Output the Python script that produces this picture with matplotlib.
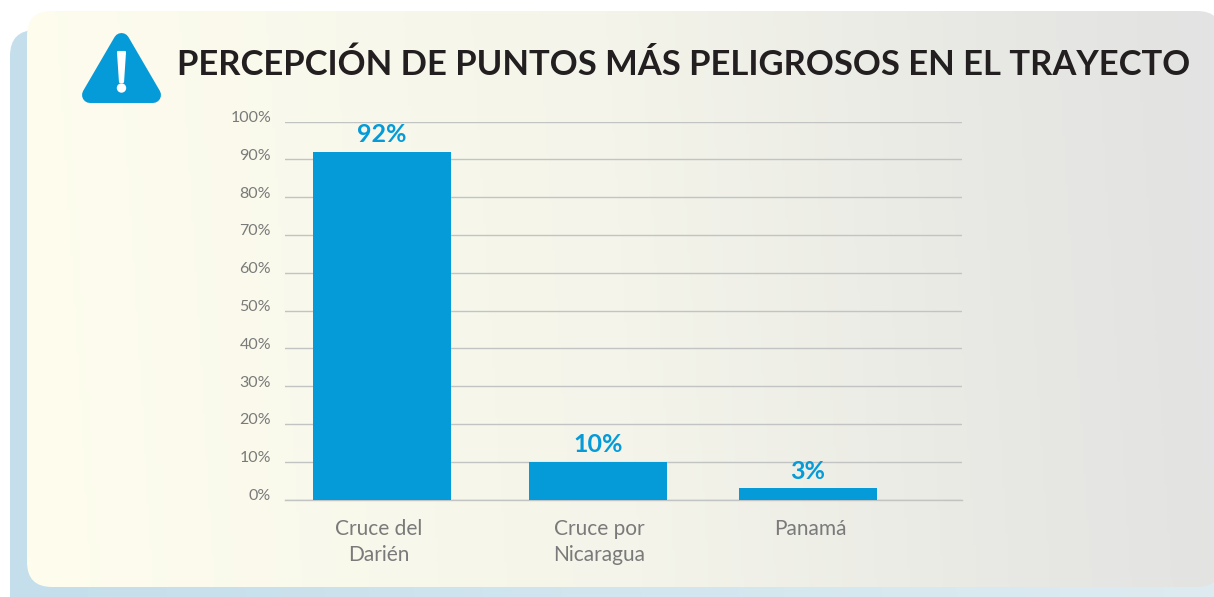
# Percepción de puntos más peligrosos en el trayecto
import numpy as np
import matplotlib
matplotlib.use('Agg')
import matplotlib.pyplot as plt
from matplotlib.colors import LinearSegmentedColormap
from matplotlib.patches import Circle, FancyBboxPatch, Polygon
from matplotlib.transforms import ScaledTranslation

categories = ['Cruce del\nDarién', 'Cruce por\nNicaragua', 'Panamá']
values = [92, 10, 3]
value_labels = ['92%', '10%', '3%']
y_ticks = [0, 10, 20, 30, 40, 50, 60, 70, 80, 90, 100]
y_tick_labels = ['0%', '10%', '20%', '30%', '40%', '50%', '60%', '70%', '80%', '90%', '100%']
bar_slots = [0, 1, 1.972]

TITLE = 'PERCEPCIÓN DE PUNTOS MÁS PELIGROSOS EN EL TRAYECTO'
BLUE = '#059BD8'
GRID = '#C2C3C3'
TEXT = '#7A7A7A'
W, H = 1214, 597

plt.rcParams['font.family'] = ['Lato', 'DejaVu Sans']

fig = plt.figure(figsize=(W / 100, H / 100), dpi=100, facecolor='white')

# ----- fondo: todo en coordenadas de pixel -----
bg = fig.add_axes([0, 0, 1, 1])
bg.set_xlim(0, W)
bg.set_ylim(H, 0)
bg.axis('off')


def gradient_panel(x0, y0, x1, y1, radius, stops):
    patch = FancyBboxPatch((x0 + radius, y0 + radius), x1 - x0 - 2 * radius, y1 - y0 - 2 * radius,
                           boxstyle=f'round,pad={radius},rounding_size={radius}',
                           facecolor='none', edgecolor='none')
    bg.add_patch(patch)
    cmap = LinearSegmentedColormap.from_list('panel', stops)
    gx, gy = np.meshgrid(np.linspace(0, 1, 400), np.linspace(0, 1, 200))
    img = bg.imshow(gx + 0.03 * (1 - gy), cmap=cmap, vmin=0, vmax=1.03, extent=(x0, x1, y1, y0),
                    aspect='auto', interpolation='bilinear')
    img.set_clip_path(patch)


gradient_panel(10, 30, 1240, 640, 26, ['#C4DEEB', '#D2E6EF', '#DFECF1'])
gradient_panel(27, 11, 1222, 587, 25,
               [(0, '#FEFDEE'), (0.5, '#F4F4EA'), (0.8, '#E8E9E4'), (1, '#E2E3E2')])
bg.set_xlim(0, W)
bg.set_ylim(H, 0)

# icono de advertencia
bg.add_patch(Polygon([(121.5, 41), (90, 95), (153, 95)], closed=True, facecolor=BLUE,
                     edgecolor=BLUE, linewidth=11.5, joinstyle='round'))
bg.add_patch(Polygon([(118, 52), (125, 52), (123, 82), (120, 82)], closed=True, facecolor='white',
                     edgecolor='white', linewidth=1.5, joinstyle='round'))
bg.add_patch(Circle((121.5, 88), 4.7, facecolor='white', edgecolor='none'))

bg.text(177, 64.5, TITLE, fontsize=24.9, fontweight='bold', color='#231F20', ha='left', va='center')

# ----- grafico -----
left, right, top, bottom = 285, 962, 121.5, 499.5
ax = fig.add_axes([left / W, 1 - bottom / H, (right - left) / W, (bottom - top) / H])
ax.patch.set_alpha(0)
ax.set_xlim(-0.449, 2.685)
ax.set_ylim(0, 100)

ax.bar(bar_slots, values, width=0.639, color=BLUE, zorder=3)
ax.set_axisbelow(True)
ax.yaxis.grid(True, color=GRID, linewidth=1.0)
ax.xaxis.grid(False)
ax.axhline(0, color=GRID, linewidth=1.0, zorder=2, clip_on=False)

for spine in ax.spines.values():
    spine.set_visible(False)

ax.set_yticks(y_ticks)
ax.set_yticklabels(y_tick_labels, fontsize=11.5, color=TEXT)
ax.set_xticks(bar_slots)
ax.set_xticklabels(categories, fontsize=15, color=TEXT, linespacing=1.35)
ax.tick_params(axis='y', length=0, pad=10)
ax.tick_params(axis='x', length=0, pad=14)

# las etiquetas del eje y van un poco por encima de su linea
shift = ScaledTranslation(0, 5 / 100, fig.dpi_scale_trans)
for lab in ax.get_yticklabels():
    lab.set_transform(lab.get_transform() + shift)

# las categorias no quedan centradas del todo bajo la barra
for lab, px in zip(ax.get_xticklabels(), [-3, 1, 2]):
    lab.set_transform(lab.get_transform() + ScaledTranslation(px / 100, 0, fig.dpi_scale_trans))

for x, v, lab in zip(bar_slots, values, value_labels):
    ax.annotate(lab, (x, v), xytext=(0, 4), textcoords='offset points', ha='center', va='bottom',
                fontsize=18, fontweight='bold', color=BLUE, zorder=4)

fig.savefig('out.png', dpi=100)
